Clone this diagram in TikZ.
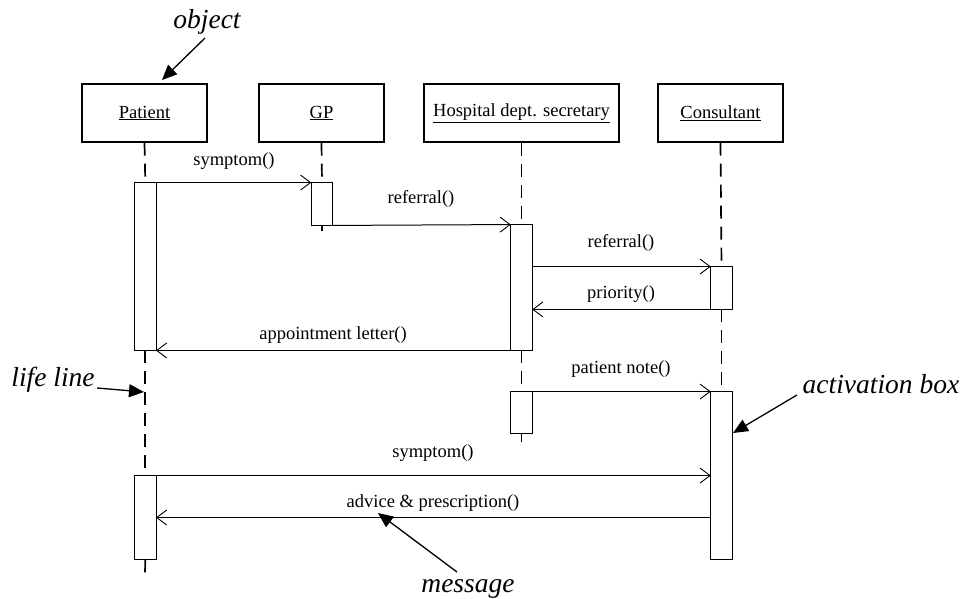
\documentclass[tikz,border=0pt]{standalone}
\usepackage{fontspec}
\setmainfont{Liberation Serif}
\usetikzlibrary{arrows.meta}
\begin{document}
\begin{tikzpicture}[x=1pt,y=-1pt,
 obj/.style={draw, line width=1.2pt, minimum width=125pt, minimum height=58pt, inner sep=0pt, font=\fontsize{18.5}{22}\selectfont},
 act/.style={draw, fill=white, line width=0.9pt, minimum width=20.5pt, inner sep=0pt},
 life/.style={line width=1.7pt, dash pattern=on 13pt off 8pt},
 msg/.style={line width=1pt, -{Straight Barb[length=10pt,width=15pt,line width=0.9pt]}},
 lbl/.style={anchor=base, font=\fontsize{18.5}{22}\selectfont, inner sep=0pt},
 note/.style={anchor=base, font=\fontsize{27.5}{32}\selectfont\itshape, inner sep=0pt},
 pointer/.style={line width=1.3pt, -{Triangle[length=15pt,width=13pt]}}]

\useasboundingbox (0,0) rectangle (964,599);

% objects
\node[obj] (pat) at (144.5,113) {\underline{Patient}};
\node[obj] (gp) at (321.5,113) {\underline{GP}};
\node[obj, minimum width=195pt] (hos) at (521.5,113) {\underline{Hospital dept. secretary}};
\node[obj] (con) at (720.5,113) {\underline{Consultant}};

% activation box positions
\coordinate (p1c) at (145.3,266.5);
\coordinate (g1c) at (322,204);
\coordinate (h1c) at (521.5,287.5);
\coordinate (c1c) at (721.5,288);
\coordinate (h2c) at (521.5,412.5);
\coordinate (c2c) at (721.5,475.5);
\coordinate (p2c) at (145.3,517.5);

% life line ends
\coordinate (pend) at (145,573);
\coordinate (gend) at (322,231);
\coordinate (hend) at (521.5,442);

% activation boxes (named, drawn below)
\path
 (p1c) node[act, draw=none, fill=none, minimum height=167pt] (p1) {}
 (g1c) node[act, draw=none, fill=none, minimum height=42pt] (g1) {}
 (h1c) node[act, draw=none, fill=none, minimum height=125pt] (h1) {}
 (c1c) node[act, draw=none, fill=none, minimum height=42pt] (c1) {}
 (h2c) node[act, draw=none, fill=none, minimum height=41pt] (h2) {}
 (c2c) node[act, draw=none, fill=none, minimum height=167pt] (c2) {}
 (p2c) node[act, draw=none, fill=none, minimum height=83pt] (p2) {};

% life lines
\draw[life] (pat.south) -- (p1.north);
\draw[life] (p1.south) -- (p2.north);
\draw[life] (p2.south) -- (pend);
\draw[life] (gp.south) -- (g1.north);
\draw[life] (g1.south) -- (gend);
\draw[life] (hos.south) -- (h1.north);
\draw[life] (h1.south) -- (h2.north);
\draw[life] (h2.south) -- (hend);
\draw[life] (con.south) -- (c1.north);
\draw[life] (c1.south) -- (c2.north);

% drawn activation boxes
\foreach \n in {p1,g1,h1,c1,h2,c2,p2}
  \draw[line width=0.9pt, fill=white] (\n.north west) rectangle (\n.south east);

% messages
\draw[msg] (p1.north east) -- (g1.north west);
\draw[msg] (g1.south east) -- (h1.north west);
\draw[msg] (h1.east |- c1.north) -- (c1.north west);
\draw[msg] (c1.south west) -- (h1.east |- c1.south);
\draw[msg] (h1.south west) -- (p1.south east);
\draw[msg] (h2.north east) -- (c2.north west);
\draw[msg] (p2.north east) -- (c2.west |- p2.north);
\draw[msg] (c2.west |- p2.east) -- (p2.east);

% message labels
\node[lbl] (l1) at (234,166) {symptom()};
\node[lbl] (l2) at (421,204) {referral()};
\node[lbl] (l3) at (621,247) {referral()};
\node[lbl] (l4) at (621,298) {priority()};
\node[lbl] (l5) at (333,339) {appointment letter()};
\node[lbl] (l6) at (621,373) {patient note()};
\node[lbl] (l7) at (433,457) {symptom()};
\node[lbl] (l8) at (433,507) {advice \& prescription()};

% annotations
\node[note] (nobj) at (207,29) {object};
\node[note] (nlife) at (53,386) {life line};
\node[note] (nact) at (881,393) {activation box};
\node[note] (nmsg) at (468,592) {message};

\coordinate (a1s) at (205,38);   \coordinate (a1e) at (162,80);
\coordinate (a2s) at (97,388);   \coordinate (a2e) at (144,392);
\coordinate (a3s) at (797,395);  \coordinate (a3e) at (733,433);
\coordinate (a4s) at (457,572);  \coordinate (a4e) at (378,513);
\draw[pointer] (a1s) -- (a1e);
\draw[pointer] (a2s) -- (a2e);
\draw[pointer] (a3s) -- (a3e);
\draw[pointer] (a4s) -- (a4e);
\end{tikzpicture}
\end{document}
